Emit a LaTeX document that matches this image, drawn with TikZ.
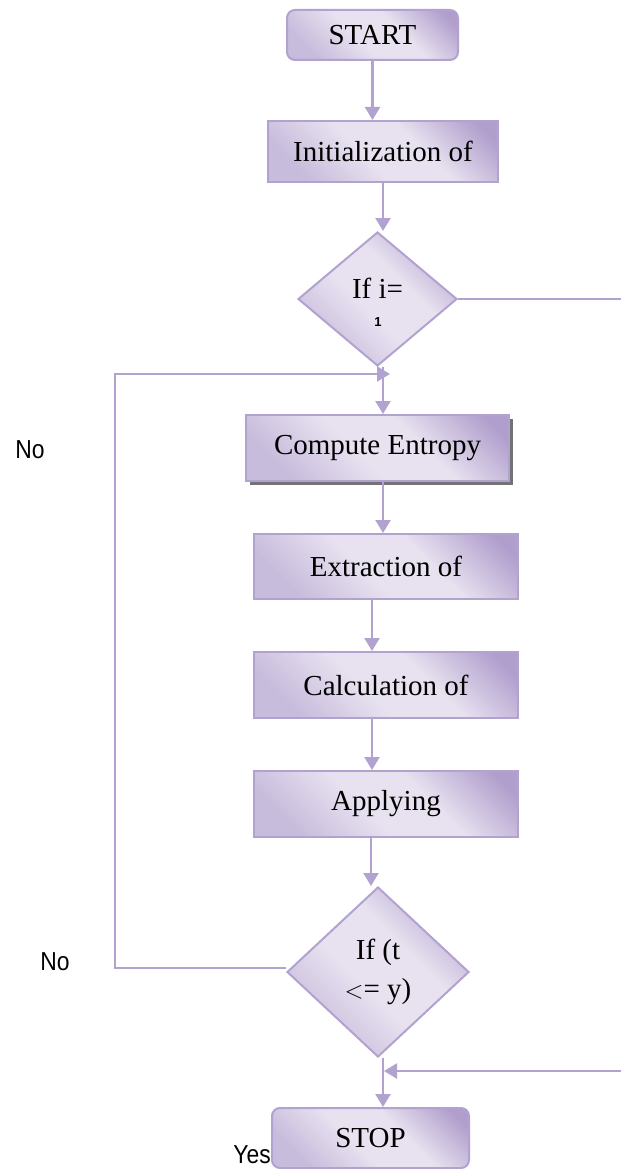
\documentclass[tikz,border=0pt]{standalone}
\usepackage{fontspec}
\setmainfont{Liberation Serif}
\newfontfamily\lsans{Liberation Sans}[FakeStretch=0.88]
\newfontfamily\lsansb{Liberation Sans}
\usetikzlibrary{shapes.geometric,arrows.meta}
\definecolor{lavline}{RGB}{178,162,208}
\definecolor{lavdk}{RGB}{176,158,204}
\definecolor{lavmd}{RGB}{200,188,220}
\definecolor{lavlt}{RGB}{232,226,240}
\pgfdeclarehorizontalshading{lav}{100bp}{color(0bp)=(lavmd); color(25bp)=(lavmd); color(45bp)=(lavlt); color(60bp)=(lavlt); color(80bp)=(lavdk); color(100bp)=(lavdk)}
\begin{document}
\begin{tikzpicture}[x=1pt,y=-1pt,
  box/.style={rectangle, draw=lavline, line width=2pt, shading=lav, shading angle=45, inner sep=0pt, font=\fontsize{29}{34}\selectfont},
  rbox/.style={box, rounded corners=8pt},
  dia/.style={diamond, draw=lavline, line width=2pt, shading=lav, shading angle=45, inner sep=0pt, font=\fontsize{29}{39}\selectfont, align=center},
  txt/.style={inner sep=0pt, font=\fontsize{29}{34}\selectfont},
  conn/.style={draw=lavline, line width=2.3pt},
  arr/.style={conn, -{Triangle[length=13pt,width=15pt]}},
  lbl/.style={font=\lsans\fontsize{26}{28}\selectfont, inner sep=0pt}
]
\useasboundingbox (0,0) rectangle (621,1169);

% nodes
\node[rbox, minimum width=171pt, minimum height=50pt] (start) at (372.5,35) {START};
\node[box, minimum width=230pt, minimum height=61pt] (init) at (383,151.5) {Initialization of};
\node[dia, minimum width=159pt, minimum height=134pt] (d1) at (377.5,299) {};
\node[txt] (d1a) at (377.5,288) {If i=};
\node[inner sep=0pt, font=\lsansb\bfseries\fontsize{13}{14}\selectfont] (d1b) at (378,322) {1};
\fill[black!55] (249.5,418.5) rectangle (512.5,484.5);
\node[box, minimum width=263pt, minimum height=66pt] (ce) at (377.5,448) {Compute Entropy};
\node[box, minimum width=264pt, minimum height=65pt] (ext) at (386,566.5) {Extraction of};
\node[box, minimum width=264pt, minimum height=66pt] (calc) at (386,685) {Calculation of};
\node[box, minimum width=264pt, minimum height=66pt] (app) at (386,804) {Applying};
\node[dia, minimum width=182pt, minimum height=170pt] (d2) at (378,972) {If (t\\$<$= y)};
\node[rbox, minimum width=197pt, minimum height=60pt] (stop) at (370.5,1138) {STOP};

% labels
\node[lbl] (no1) at (30,450) {No};
\node[lbl] (no2) at (55,962) {No};
\node[lbl, anchor=east] (yes) at (271,1155) {Yes};

% free ends
\coordinate (r1) at (621,299);
\coordinate (r2) at (621,1071);
\coordinate (j2) at (384,1071);
\coordinate (lpc) at (115,374);
\coordinate (lpe) at (390,374);

% connectors
\draw[arr] (start.south) -- (start.south |- init.north);
\draw[arr] (init.south) -- (init.south |- d1.north);
\draw[conn] (d1.east) -- (r1);
\draw[arr] ([xshift=5.5pt]d1.south) -- ([xshift=5.5pt]ce.north);
\draw[arr] ([yshift=4pt]d2.west) -| (lpc) -- (lpe);
\draw[arr] ([xshift=5.5pt]ce.south) -- ([xshift=5.5pt]ce.south |- ext.north);
\draw[arr] ([xshift=-14pt]ext.south) -- ([xshift=-14pt]calc.north);
\draw[arr] ([xshift=-14pt]calc.south) -- ([xshift=-14pt]app.north);
\draw[arr] ([xshift=-15pt]app.south) -- ([xshift=-15pt]app.south |- d2.north);
\draw[arr] ([xshift=5pt]d2.south) -- ([xshift=5pt]d2.south |- stop.north);
\draw[arr] (r2) -- (j2);
\end{tikzpicture}
\end{document}
